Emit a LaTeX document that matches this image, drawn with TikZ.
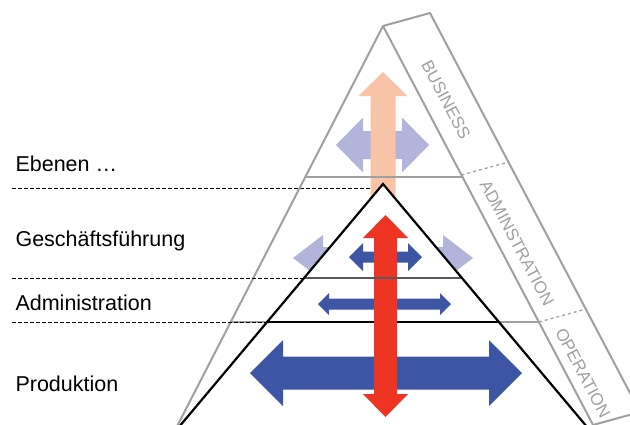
\documentclass[tikz,border=0pt]{standalone}
\usepackage{fontspec}
\setmainfont{Liberation Sans}
\usepackage{tikz}

\definecolor{paleblue}{HTML}{B2B4DA}
\definecolor{palepeach}{HTML}{F9C3A8}
\definecolor{darkblue}{HTML}{3D55A5}
\definecolor{redarrow}{HTML}{EE3524}
\definecolor{grayline}{HTML}{A0A0A0}

% colour, cx, cy, half length, shaft half width, head half width, head length
\newcommand{\hdarrow}[7]{%
\fill[#1] ({#2-#4},#3) -- ({#2-#4+#7},{#3-#6}) -- ({#2-#4+#7},{#3-#5}) -- ({#2+#4-#7},{#3-#5})
  -- ({#2+#4-#7},{#3-#6}) -- ({#2+#4},#3) -- ({#2+#4-#7},{#3+#6}) -- ({#2+#4-#7},{#3+#5})
  -- ({#2-#4+#7},{#3+#5}) -- ({#2-#4+#7},{#3+#6}) -- cycle;}
\newcommand{\vdarrow}[7]{%
\fill[#1] (#2,{#3-#4}) -- ({#2+#6},{#3-#4+#7}) -- ({#2+#5},{#3-#4+#7}) -- ({#2+#5},{#3+#4-#7})
  -- ({#2+#6},{#3+#4-#7}) -- (#2,{#3+#4}) -- ({#2-#6},{#3+#4-#7}) -- ({#2-#5},{#3+#4-#7})
  -- ({#2-#5},{#3-#4+#7}) -- ({#2-#6},{#3-#4+#7}) -- cycle;}

\begin{document}
\begin{tikzpicture}[x=1pt,y=-1pt,
  level/.style={anchor=base west,font=\fontsize{21.5}{24}\selectfont},
  band/.style={font=\fontsize{17}{19}\selectfont,text=grayline,rotate=-62.2,inner sep=0pt},
  levelline/.style={dashed,dash pattern=on 3.5pt off 2.5pt,line width=0.8pt}]
\useasboundingbox (0,0) rectangle (630,424);
\clip (0,0) rectangle (630,424);

% faded arrows behind
\draw[levelline] (12,188) -- (372,188);
\hdarrow{paleblue}{383}{258}{90}{11}{23}{30}
\hdarrow{paleblue}{382.5}{145}{46.5}{14}{27.5}{27}
\fill[palepeach] (383,72) -- (407.5,96) -- (395.5,96) -- (395.5,200) -- (370.5,200)
  -- (370.5,96) -- (358.5,96) -- cycle;

% outer pyramid and band
\coordinate (otop) at (383,26);
\draw[grayline,line width=2pt,line join=round] (170,440) -- (otop) -- (601,440);
\draw[grayline,line width=1.3pt] (305,177) -- (463,177);
\draw[grayline,line width=1.3pt] (231,322) -- (539,322);
\draw[grayline,line width=2pt,line join=round] (otop) -- (430,13) -- (640,412) -- (593,425);
\draw[grayline,line width=1.3pt,dashed] (461.5,175) -- (508.5,162);
\draw[grayline,line width=1.3pt,dashed] (539,322) -- (586,309);

\node[band] (business) at (446,100) {BUSINESS};
\node[band] (admin) at (517,243) {ADMINSTRATION};
\node[band] (operation) at (583,373) {OPERATION};

% inner pyramid
\coordinate (itop) at (383,184);
\fill[white] (itop) -- (598,440) -- (168,440) -- cycle;
\draw[levelline] (12,278) -- (304,278);
\draw[levelline] (12,322) -- (267,322);
\draw[line width=1.2pt] (267,322) -- (499,322);

\hdarrow{darkblue}{385.5}{257}{36.5}{5.5}{14}{14}
\hdarrow{darkblue}{384.5}{304}{66.5}{5.5}{11}{11}
\hdarrow{darkblue}{386}{373}{136}{16.5}{33}{33}
\vdarrow{redarrow}{385.5}{316}{101}{11.5}{22.5}{23}

\draw[black!65,line width=1.2pt] (304,278) -- (462,278);
\draw[line width=2.2pt,line join=miter] (168,440) -- (itop) -- (598,440);

\node[level] (ebenen) at (12,171) {Ebenen …};
\node[level] (gf) at (12,246) {Geschäftsführung};
\node[level] (adm) at (12,310) {Administration};
\node[level] (prod) at (12,391) {Produktion};
\end{tikzpicture}
\end{document}
